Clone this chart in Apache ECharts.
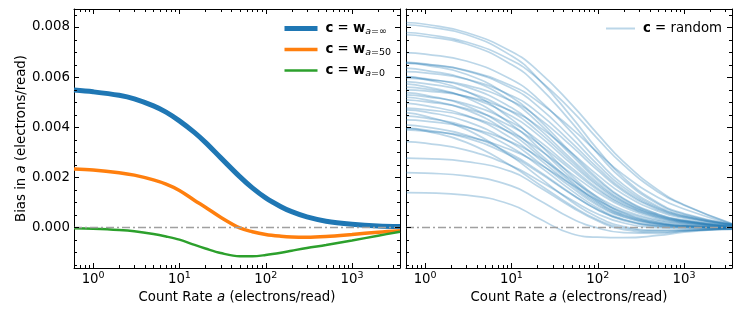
<!DOCTYPE html>
<html><head><meta charset="utf-8">
<script src="https://cdn.jsdelivr.net/npm/echarts@6/dist/echarts.min.js"></script>
<style>html,body{margin:0;padding:0;background:#fff}#c{width:747px;height:312px}</style>
</head><body><div id="c"></div>
<script>
// ---------- data ----------
const xGrid = [0.6, 1, 2, 3, 5, 7, 10, 15, 20, 30, 50, 70, 100, 150, 200, 300, 500, 1000, 2000, 3600];
const biasWinf = [.00548,.00541,.00527,.00513,.00485,.0046,.00425,.00378,.00339,.00278,.00202,.00157,.00117,.00082,.00062,.00041,.00024,.00012,.00005,.00003];
const biasW50  = [.00233,.00229,.00218,.00208,.00189,.00172,.00147,.00107,.0008,.0004,-.00003,-.00018,-.00029,-.00036,-.00039,-.0004,-.00037,-.00029,-.0002,-.00014];
const biasW0   = [-.00004,-.00006,-.00011,-.00016,-.00027,-.00037,-.0005,-.00071,-.00085,-.00103,-.00116,-.00116,-.00111,-.00102,-.00094,-.00083,-.00071,-.00053,-.00034,-.00018];

const xGridR = [0.6, 1, 3, 10, 20, 50, 100, 200, 500, 1000, 3600];
const randomCurves = [
  [.00818,.00811,.00778,.00702,.00627,.0049,.00372,.00261,.00149,.0009,.00015],
  [.00809,.00802,.0077,.00685,.00597,.0044,.0031,.00198,.00098,.00055,.00012],
  [.00778,.00771,.0074,.00667,.00595,.00466,.00353,.00248,.00141,.00088,.00013],
  [.00769,.00762,.00732,.0065,.00568,.00418,.00294,.00188,.00093,.00052,.0001],
  [.00698,.00692,.00664,.0059,.00515,.00379,.00266,.00169,.00083,.00047,.0001],
  [.0066,.00653,.00627,.00565,.00504,.00394,.00298,.00209,.00119,.00073,.00012],
  [.00656,.00648,.00611,.0052,.00435,.00296,.00195,.00115,.00053,.00028,.00005],
  [.00656,.00651,.00625,.00555,.00485,.00356,.0025,.00159,.00078,.00044,.00008],
  [.00636,.00627,.00592,.00504,.00421,.00287,.00188,.00112,.00051,.00027,.00004],
  [.00622,.00617,.00592,.00526,.0046,.00337,.00237,.0015,.00074,.00042,.00009],
  [.00602,.00594,.00561,.00478,.00399,.00271,.00178,.00105,.00048,.00025,.00003],
  [.00602,.00591,.00543,.00432,.00339,.00205,.00118,.00058,.00019,.00008,-.00002],
  [.00596,.00591,.00568,.00504,.0044,.00323,.00227,.00143,.0007,.0004,.00008],
  [.00582,.00574,.00542,.00461,.00385,.00262,.00171,.00101,.00046,.00024,.00002],
  [.00573,.00562,.00517,.00411,.00322,.00195,.00111,.00054,.00018,.00007,-.00003],
  [.0056,.00553,.00522,.00444,.00371,.00252,.00165,.00097,.00044,.00023,.00001],
  [.00549,.00545,.00523,.00464,.00406,.00297,.00208,.00131,.00064,.00036,.00007],
  [.00538,.00528,.00485,.00386,.00302,.00182,.00103,.00049,.00015,.00005,-.00004],
  [.00529,.00522,.00493,.00419,.0035,.00237,.00155,.00091,.00041,.00021,0],
  [.0052,.0051,.00469,.00373,.00292,.00176,.00099,.00047,.00014,.00005,-.00004],
  [.00509,.00502,.00474,.00403,.00337,.00228,.00149,.00087,.00039,.0002,0],
  [.00496,.00486,.00447,.00356,.00278,.00167,.00093,.00043,.00012,.00004,-.00004],
  [.00476,.0047,.00444,.00377,.00315,.00213,.00139,.00081,.00035,.00018,-.00001],
  [.00469,.00461,.00423,.00337,.00263,.00158,.00087,.0004,.00011,.00003,-.00005],
  [.00458,.00444,.00391,.00283,.00205,.00102,.0004,.00003,-.00012,-.00011,-.00008],
  [.00445,.00437,.00402,.00319,.00249,.00146,.00077,.00031,.00005,0,-.00006],
  [.00429,.00424,.004,.0034,.00284,.0019,.00121,.00068,.00029,.00015,-.00001],
  [.00409,.00401,.00368,.00292,.00228,.00133,.00069,.00026,.00003,-.00002,-.00006],
  [.00396,.00385,.00339,.00245,.00176,.00086,.0003,-.00003,-.00015,-.00013,-.00009],
  [.00396,.00389,.00357,.00284,.00222,.00131,.0007,.0003,.00006,0,-.00005],
  [.00389,.00384,.00363,.00308,.00257,.00171,.00108,.00061,.00025,.00013,-.00002],
  [.00342,.00336,.00308,.00245,.0019,.00109,.00053,.00017,-.00002,-.00005,-.00007],
  [.00276,.00274,.00262,.00222,.00165,.0008,.00025,-.0001,-.0002,-.00015,-.00005],
  [.00218,.00216,.00205,.00165,.00112,.00035,-.00003,-.00022,-.00025,-.00016,-.00004],
  [.00138,.00137,.00128,.0009,.00038,-.00026,-.0004,-.00042,-.00033,-.0002,-.00005]
];

const xMajorTicks = [1, 10, 100, 1000];
const xMinorTicks = [0.6,0.7,0.8,0.9, 2,3,4,5,6,7,8,9, 20,30,40,50,60,70,80,90, 200,300,400,500,600,700,800,900, 2000,3000];
const yMajorTicks = [0, 0.002, 0.004, 0.006, 0.008];
const yMinorTicks = [-0.0015,-0.001,-0.0005,0.0005,0.001,0.0015,0.0025,0.003,0.0035,0.0045,0.005,0.0055,0.0065,0.007,0.0075,0.0085];

const X_MIN = 0.6, X_MAX = 3600, Y_MIN = -0.00163, Y_MAX = 0.00872;

// ---------- helpers ----------
const FONT = 'DejaVu Sans';
const FS = 13.3;
const pair = (xs, ys) => xs.map((x, i) => [x, ys[i]]);

const nameRich = {
  n: {fontFamily: FONT, fontSize: FS, color: '#000'},
  i: {fontFamily: FONT, fontSize: FS, color: '#000', fontStyle: 'italic'}
};

function logAxis(gi, position, showLabels, withName) {
  return {
    type: 'log', logBase: 10, gridIndex: gi, position: position, min: X_MIN, max: X_MAX,
    axisLine: {show: true, onZero: false, lineStyle: {color: '#000', width: 1}},
    axisTick: {show: false}, splitLine: {show: false}, minorTick: {show: false}, minorSplitLine: {show: false},
    axisLabel: {
      show: showLabels, margin: 3, showMinLabel: false, showMaxLabel: false,
      formatter: function (v) {
        const e = Math.log10(v), r = Math.round(e);
        if (Math.abs(e - r) > 1e-6) return '';
        return '{b|10}{s|' + r + '}';
      },
      rich: {
        b: {fontFamily: FONT, fontSize: FS, color: '#000'},
        s: {fontFamily: FONT, fontSize: 9.5, color: '#000', padding: [0, 0, 8, 0]}
      }
    },
    name: withName ? '{n|Count Rate }{i|a}{n| (electrons/read)}' : '',
    nameLocation: 'middle', nameGap: 18,
    nameTextStyle: {fontFamily: FONT, fontSize: FS, color: '#000', rich: nameRich}
  };
}

function valAxis(gi, position, showLabels, withName) {
  return {
    type: 'value', gridIndex: gi, position: position, min: Y_MIN, max: Y_MAX,
    axisLine: {show: true, onZero: false, lineStyle: {color: '#000', width: 1}},
    axisTick: {show: false}, splitLine: {show: false},
    axisLabel: {
      show: showLabels, margin: 4, customValues: yMajorTicks,
      formatter: v => v.toFixed(3), fontFamily: FONT, fontSize: FS, color: '#000'
    },
    name: withName ? '{n|Bias in }{i|a}{n| (electrons/read)}' : '',
    nameLocation: 'middle', nameGap: 42, nameRotate: 90,
    nameTextStyle: {fontFamily: FONT, fontSize: FS, color: '#000', rich: nameRich}
  };
}

function tickSeries(gi, values, dir, len) {
  return {
    type: 'custom', xAxisIndex: gi * 2, yAxisIndex: gi * 2, silent: true, z: 10, clip: false,
    data: values.map(v => dir === 'x' ? [v, 0] : [1, v]),
    renderItem: function (params, api) {
      const cs = params.coordSys;
      const p = api.coord([api.value(0), api.value(1)]);
      const st = {stroke: '#000', lineWidth: 1};
      if (dir === 'x') {
        const x = Math.round(p[0]) + 0.5, b = cs.y + cs.height, t = cs.y;
        return {type: 'group', children: [
          {type: 'line', shape: {x1: x, y1: b, x2: x, y2: b - len}, style: st},
          {type: 'line', shape: {x1: x, y1: t, x2: x, y2: t + len}, style: st}
        ]};
      } else {
        const y = Math.round(p[1]) + 0.5, l = cs.x, r = cs.x + cs.width;
        return {type: 'group', children: [
          {type: 'line', shape: {x1: l, y1: y, x2: l + len, y2: y}, style: st},
          {type: 'line', shape: {x1: r, y1: y, x2: r - len, y2: y}, style: st}
        ]};
      }
    }
  };
}

const zeroLine = {
  silent: true, symbol: ['none', 'none'], label: {show: false},
  lineStyle: {color: '#a0a0a0', width: 1.3, type: [8, 3, 2, 3]},
  data: [{yAxis: 0}]
};

function lineSeries(name, xs, ys, gi, color, width, smooth, extra) {
  return Object.assign({
    type: 'line', name: name, xAxisIndex: gi * 2, yAxisIndex: gi * 2,
    data: pair(xs, ys), smooth: smooth, symbol: 'none', showSymbol: false,
    lineStyle: {color: color, width: width}, itemStyle: {color: color}, z: 3
  }, extra || {});
}

const BLUE = '#1f77b4', ORANGE = '#ff7f0e', GREEN = '#2ca02c', LIGHT = 'rgba(31,119,180,0.3)';

const series = [];
series.push(lineSeries('w_inf', xGrid, biasWinf, 0, BLUE, 5, 0.35, {markLine: zeroLine}));
series.push(lineSeries('w_50', xGrid, biasW50, 0, ORANGE, 3.5, 0.35));
series.push(lineSeries('w_0', xGrid, biasW0, 0, GREEN, 2.4, 0.35));
randomCurves.forEach((ys, k) => {
  series.push(lineSeries('random', xGridR, ys, 1, LIGHT, 1.7, 0.5, k === 0 ? {markLine: zeroLine} : {}));
});
[0, 1].forEach(gi => {
  series.push(tickSeries(gi, xMajorTicks, 'x', 5));
  series.push(tickSeries(gi, xMinorTicks, 'x', 3));
  series.push(tickSeries(gi, yMajorTicks, 'y', 5));
  series.push(tickSeries(gi, yMinorTicks, 'y', 3));
});

const legendRich = {
  b: {fontFamily: FONT, fontSize: FS, fontWeight: 'bold', color: '#000'},
  t: {fontFamily: FONT, fontSize: FS, color: '#000'},
  s: {fontFamily: FONT, fontSize: 9.5, color: '#000', padding: [7, 0, 0, 0]},
  si: {fontFamily: FONT, fontSize: 9.5, color: '#000', fontStyle: 'italic', padding: [7, 0, 0, 0]}
};
const legendText = {
  'w_inf': '{b|c}{t| = }{b|w}{si|a}{s|=∞}',
  'w_50': '{b|c}{t| = }{b|w}{si|a}{s|=50}',
  'w_0': '{b|c}{t| = }{b|w}{si|a}{s|=0}',
  'random': '{b|c}{t| = random}'
};

const option = {
  animation: false,
  backgroundColor: '#fff',
  grid: [
    {left: 74, top: 9, width: 326, height: 259},
    {left: 406, top: 9, width: 326, height: 259}
  ],
  xAxis: [logAxis(0, 'bottom', true, true), logAxis(0, 'top', false, false),
          logAxis(1, 'bottom', true, true), logAxis(1, 'top', false, false)],
  yAxis: [valAxis(0, 'left', true, true), valAxis(0, 'right', false, false),
          valAxis(1, 'left', false, false), valAxis(1, 'right', false, false)],
  legend: [
    {data: [
       {name: 'w_inf', lineStyle: {width: 5}},
       {name: 'w_50', lineStyle: {width: 3.5}},
       {name: 'w_0', lineStyle: {width: 2.4}}
     ], orient: 'vertical', left: 277, top: 17, itemWidth: 33, itemHeight: 14,
     itemGap: 6, itemStyle: {opacity: 0}, selectedMode: false, formatter: n => legendText[n],
     textStyle: {rich: legendRich, padding: [0, 0, 0, 3]}},
    {data: [{name: 'random', lineStyle: {width: 2}}], orient: 'vertical', left: 600, top: 17, itemWidth: 29, itemHeight: 14,
     itemStyle: {opacity: 0}, selectedMode: false, formatter: n => legendText[n],
     textStyle: {rich: legendRich, padding: [0, 0, 0, 3]}}
  ],
  series: series
};

const chart = echarts.init(document.getElementById('c'));
chart.setOption(option);
</script>
</body></html>
